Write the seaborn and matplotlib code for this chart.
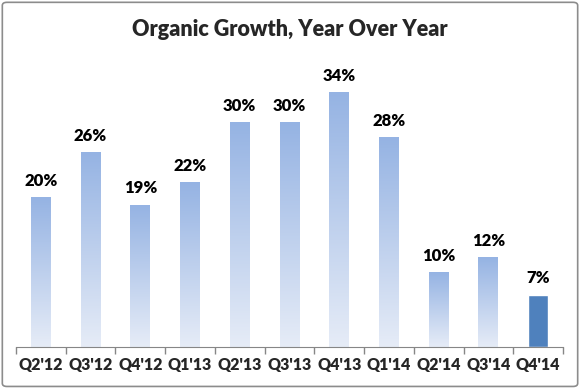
import numpy as np
import pandas as pd
import seaborn as sns
import matplotlib.pyplot as plt
from matplotlib.patches import FancyBboxPatch
from matplotlib.colors import LinearSegmentedColormap

quarters = ["Q2'12", "Q3'12", "Q4'12", "Q1'13", "Q2'13", "Q3'13",
            "Q4'13", "Q1'14", "Q2'14", "Q3'14", "Q4'14"]
growth = [20, 26, 19, 22, 30, 30, 34, 28, 10, 12, 7]

sns.set_style("white")
plt.rcParams['font.family'] = ['Lato', 'DejaVu Sans']

df = pd.DataFrame({'quarter': quarters, 'growth': growth})

fig = plt.figure(figsize=(5.8, 3.88), dpi=100)
ax = fig.add_axes([0.0276, 0.1057, 0.9431, 0.773])

sns.barplot(data=df, x='quarter', y='growth', color='#4F81BD', width=0.4,
            saturation=1, ax=ax)

# gradient fill for all bars except the latest quarter
grad = LinearSegmentedColormap.from_list('g', ['#E6ECF7', '#95B3E3'])
ramp = np.linspace(0, 1, 256).reshape(-1, 1)
for i, bar in enumerate(ax.patches):
    if i == len(ax.patches) - 1:
        continue
    x0, w, h = bar.get_x(), bar.get_width(), bar.get_height()
    bar.set_facecolor('none')
    im = ax.imshow(ramp, cmap=grad, aspect='auto', origin='lower',
                   extent=[x0, x0 + w, 0, h], zorder=bar.get_zorder())
    im.set_clip_path(bar)

for i, v in enumerate(growth):
    ax.text(i, v + 1.1, f'{v}%', ha='center', va='bottom',
            fontsize=12, fontweight='heavy', color='black')

ax.set_xlim(-0.5, len(quarters) - 0.5)
ax.set_ylim(0, 40)
ax.set_xlabel('')
ax.set_ylabel('')
ax.set_yticks([])
for s in ['left', 'right', 'top']:
    ax.spines[s].set_visible(False)
ax.spines['bottom'].set_color('#868686')
ax.set_xticks(range(len(quarters)))
ax.set_xticklabels(quarters, fontsize=11.5, fontweight='heavy')
ax.set_xticks(np.arange(-0.5, len(quarters)), minor=True)
ax.tick_params(axis='x', which='major', length=0, pad=7)
ax.tick_params(axis='x', which='minor', length=5, color='#868686', width=1,
               direction='out', bottom=True)

fig.text(0.5, 0.923, 'Organic Growth, Year Over Year', ha='center',
         va='center', fontsize=15.5, fontweight='heavy')

border = FancyBboxPatch((0.004, 0.004), 0.992, 0.99,
                        boxstyle='round,pad=0,rounding_size=0.008',
                        transform=fig.transFigure, fill=False,
                        edgecolor='#8C8C8C', linewidth=1.2)
fig.patches.append(border)

fig.savefig('out.png', dpi=100)
